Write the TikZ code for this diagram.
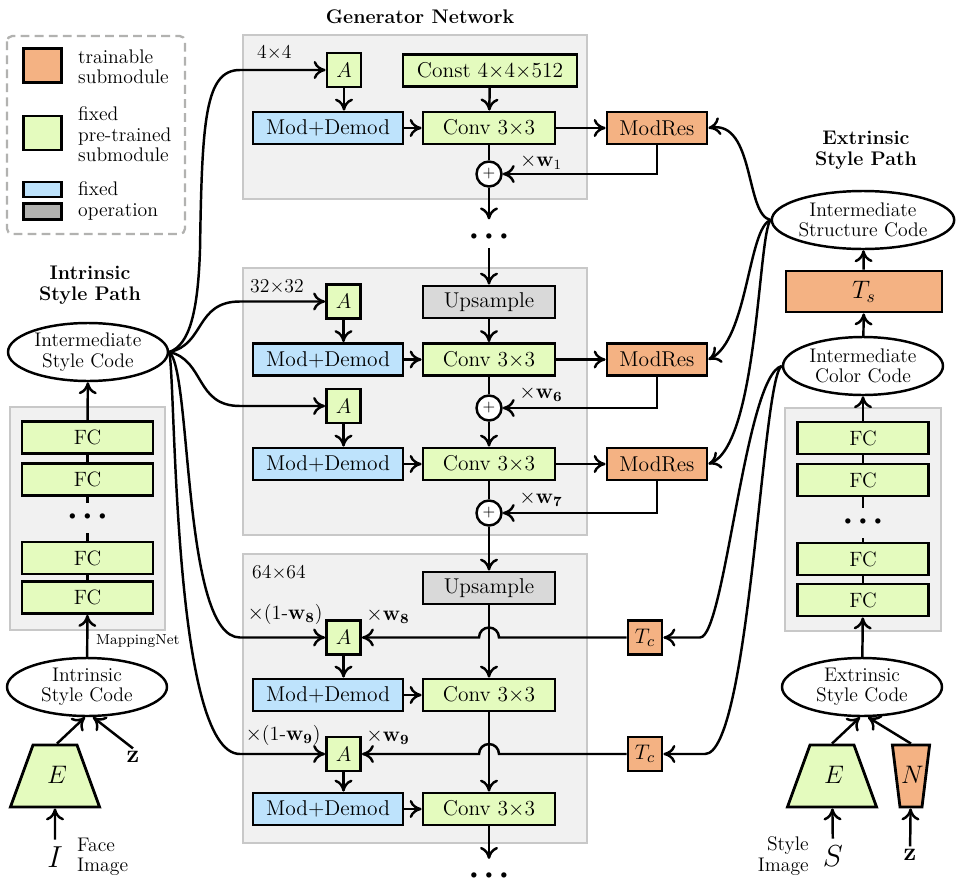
\documentclass[tikz,border=0pt]{standalone}
\usepackage{amsmath,amssymb}
\usepackage{tikz}
\usetikzlibrary{arrows.meta,shapes.geometric}
\definecolor{trainorange}{RGB}{244,178,131}
\definecolor{fixgreen}{RGB}{228,251,190}
\definecolor{fixblue}{RGB}{190,227,252}
\definecolor{opgray}{RGB}{178,178,176}
\definecolor{upgray}{RGB}{217,217,217}
\definecolor{panelfill}{RGB}{241,241,241}
\definecolor{panelline}{RGB}{200,200,200}
\newcommand{\threedots}{{\fontsize{7}{7}\selectfont$\bullet\hspace{2.6pt}\bullet\hspace{2.6pt}\bullet$}}

\begin{document}
\begin{tikzpicture}[x=0.02cm,y=-0.02cm,line width=1.4pt,>={Computer Modern Rightarrow[length=2.4mm,width=3.6mm]}]
\tikzstyle{blockbox}=[draw,line width=1.6pt,minimum height=0.64cm,inner sep=0pt,font=\fontsize{12.2}{13}\selectfont]
\tikzstyle{modbox}=[blockbox,fill=fixblue,minimum width=3cm]
\tikzstyle{convbox}=[blockbox,fill=fixgreen,minimum width=2.64cm]
\tikzstyle{resbox}=[blockbox,fill=trainorange,minimum width=2cm]
\tikzstyle{abox}=[blockbox,fill=fixgreen,minimum width=0.68cm,minimum height=0.68cm,font=\fontsize{13}{14}\selectfont]
\tikzstyle{upbox}=[blockbox,fill=upgray,minimum width=2.64cm]
\tikzstyle{fcbox}=[blockbox,fill=fixgreen,minimum width=2.62cm,font=\fontsize{11.8}{12}\selectfont]
\tikzstyle{tcbox}=[blockbox,fill=trainorange,minimum width=0.68cm,minimum height=0.68cm,font=\fontsize{13}{14}\selectfont]
\tikzstyle{addnode}=[draw,circle,fill=white,minimum size=0.5cm,inner sep=0pt,font=\small]
\tikzstyle{codeshape}=[draw,ellipse,fill=white,minimum width=3.2cm,minimum height=1.16cm,inner sep=0pt,align=center,font=\fontsize{11.2}{11.6}\selectfont]
\tikzstyle{panel}=[fill=panelfill,draw=panelline,line width=1.1pt]
\tikzstyle{wlabel}=[font=\fontsize{11.5}{12}\selectfont,inner sep=1pt]
\tikzstyle{dotsnode}=[inner sep=0pt]
\tikzstyle{pathtitle}=[font=\bfseries\fontsize{11.2}{12}\selectfont,align=center]
\tikzstyle{legtext}=[font=\fontsize{11.2}{11.6}\selectfont,align=left,inner sep=0pt]
\tikzstyle{encshape}=[draw,line width=1.6pt,trapezium,trapezium angle=70,text width=0.32cm,align=center,text height=0.3cm,text depth=0cm,inner xsep=0.28cm,inner ysep=0.47cm,font=\fontsize{14}{14}\selectfont]
\useasboundingbox (0,0) rectangle (961,896);

% legend
\draw[opgray,dashed,dash pattern=on 5pt off 3pt,rounded corners=3pt,line width=1.3pt] (7,36) rectangle (185,234);
\node[blockbox,fill=trainorange,minimum width=0.76cm,minimum height=0.68cm] (legtrain) at (42.5,65.5) {};
\node[blockbox,fill=fixgreen,minimum width=0.76cm,minimum height=0.68cm] (legfix) at (42.5,133) {};
\node[blockbox,fill=fixblue,minimum width=0.76cm,minimum height=0.3cm] (legblue) at (42.5,189.5) {};
\node[blockbox,fill=opgray,minimum width=0.76cm,minimum height=0.32cm] (leggray) at (42.5,211.5) {};
\node[legtext,anchor=west] at (77,67) {trainable\\submodule};
\node[legtext,anchor=west] at (77,134.5) {fixed\\pre-trained\\submodule};
\node[legtext,anchor=west] at (77,201) {fixed\\operation};

% generator panels
\node[pathtitle] at (420,17) {Generator Network};
\draw[panel] (243,35) rectangle (587,199);
\draw[panel] (243,268) rectangle (587,535);
\draw[panel] (243,554) rectangle (587,843);
\draw[panel] (10,407) rectangle (165,630);
\draw[panel] (785,408) rectangle (941,631);

% 4x4
\node[legtext,anchor=west] at (256,53) {4$\times$4};
\node[abox] (a0) at (344,70) {$A$};
\node[convbox,minimum width=3.48cm] (const) at (490,70.5) {Const 4$\times$4$\times$512};
\node[modbox] (md0) at (328,128) {Mod+Demod};
\node[convbox] (conv0) at (489,128) {Conv 3$\times$3};
\node[resbox] (res0) at (657,128) {ModRes};
\node[addnode] (add0) at (489,174) {$+$};
\node[wlabel] at (541,162) {$\times\mathbf{w}_1$};
\node[dotsnode] (dots0) at (489,237) {\threedots};

% 32x32
\node[legtext,anchor=west] at (249,287) {32$\times$32};
\node[abox] (a1) at (343.5,301.5) {$A$};
\node[upbox] (up1) at (489,302) {Upsample};
\node[modbox] (md1) at (328,359.5) {Mod+Demod};
\node[convbox] (conv1) at (489,359.5) {Conv 3$\times$3};
\node[resbox] (res1) at (657,359.5) {ModRes};
\node[addnode] (add1) at (489,408) {$+$};
\node[wlabel] at (541,394) {$\times\mathbf{w}_{\mathbf{6}}$};
\node[abox] (a2) at (343.5,406) {$A$};
\node[modbox] (md2) at (328,464) {Mod+Demod};
\node[convbox] (conv2) at (489,464) {Conv 3$\times$3};
\node[resbox] (res2) at (657,464) {ModRes};
\node[addnode] (add2) at (489,513) {$+$};
\node[wlabel] at (541,499) {$\times\mathbf{w}_{\mathbf{7}}$};

% 64x64
\node[legtext,anchor=west] at (251,573) {64$\times$64};
\node[upbox] (up2) at (489,588) {Upsample};
\node[abox] (a3) at (343.5,637.5) {$A$};
\node[wlabel] at (285,614) {$\times$(1-$\mathbf{w}_{\mathbf{8}}$)};
\node[wlabel] at (388,616) {$\times\mathbf{w}_{\mathbf{8}}$};
\node[tcbox] (tc1) at (645,637.5) {$T_c$};
\node[modbox] (md3) at (328,695) {Mod+Demod};
\node[convbox] (conv3) at (489,695) {Conv 3$\times$3};
\node[abox] (a4) at (343.5,754) {$A$};
\node[wlabel] at (283,735) {$\times$(1-$\mathbf{w}_{\mathbf{9}}$)};
\node[wlabel] at (388,737) {$\times\mathbf{w}_{\mathbf{9}}$};
\node[tcbox] (tc2) at (645,754) {$T_c$};
\node[modbox] (md4) at (328,809) {Mod+Demod};
\node[convbox] (conv4) at (489,809) {Conv 3$\times$3};
\node[dotsnode] (dots1) at (489,876) {\threedots};

% generator connectors
\draw[->] (a0.south) -- (a0.south |- md0.north);
\draw[->] (const) -- (conv0);
\draw[->] (md0) -- (conv0);
\draw[->] (conv0) -- (res0);
\draw (conv0) -- (add0);
\draw[->] (res0.south) |- (add0.east);
\draw[->,shorten >=0.27cm] (add0) -- (dots0);
\draw[->,shorten <=0.14cm] (dots0) -- (up1);
\draw[->] (a1.south) -- (a1.south |- md1.north);
\draw[->] (up1) -- (conv1);
\draw[->] (md1) -- (conv1);
\draw[->] (conv1) -- (res1);
\draw (conv1) -- (add1);
\draw[->] (res1.south) |- (add1.east);
\draw[->] (add1) -- (conv2);
\draw[->] (a2.south) -- (a2.south |- md2.north);
\draw[->] (md2) -- (conv2);
\draw[->] (conv2) -- (res2);
\draw (conv2) -- (add2);
\draw[->] (res2.south) |- (add2.east);
\draw[->] (add2) -- (up2);
\draw[->] (up2) -- (conv3);
\draw[->] (a3.south) -- (a3.south |- md3.north);
\draw[->] (md3) -- (conv3);
\draw[->] (conv3) -- (conv4);
\draw[->] (a4.south) -- (a4.south |- md4.north);
\draw[->] (md4) -- (conv4);
\draw[->,shorten >=0.26cm] (conv4) -- (dots1);
\draw[->] (tc1.west) -- ([xshift=0.2cm]up2.south |- tc1.west) arc[start angle=0,end angle=180,radius=0.2cm] -- (a3.east);
\draw[->] (tc2.west) -- ([xshift=0.2cm]up2.south |- tc2.west) arc[start angle=0,end angle=180,radius=0.2cm] -- (a4.east);

% intrinsic path
\node[pathtitle] at (90,285) {Intrinsic\\Style Path};
\node[codeshape] (isc) at (88,352) {Intermediate\\Style Code};
\node[fcbox] (fc1) at (87.5,437.5) {FC};
\node[fcbox] (fc2) at (87.5,479.5) {FC};
\node[dotsnode] (ldots) at (87.5,517) {\threedots};
\node[fcbox] (fc3) at (87.5,558) {FC};
\node[fcbox] (fc4) at (87.5,597.5) {FC};
\node[font=\fontsize{8.2}{9}\selectfont,anchor=west,inner sep=0pt] at (95,641) {MappingNet};
\node[codeshape] (isIn) at (87,687) {Intrinsic\\Style Code};
\node[encshape,fill=fixgreen] (encL) at (55,776) {$E$};
\node[inner sep=1pt,font=\fontsize{14}{14}\selectfont] (zL) at (133,757) {$\mathbf{z}$};
\node[font=\fontsize{16}{16}\selectfont] (imgI) at (55,857) {$I$};
\node[legtext,anchor=west] at (76,857) {Face\\Image};
\draw (fc1) -- (fc2);
\draw[shorten >=0.2cm] (fc2) -- (ldots);
\draw[shorten <=0.24cm] (ldots) -- (fc3);
\draw (fc3) -- (fc4);
\draw[->] (fc1) -- (isc);
\draw[->] (isIn) -- (fc4);
\draw[->] (imgI) -- (encL);
\draw[->] ([xshift=0.04cm]encL.north) -- ([xshift=-0.04cm]isIn.south);
\draw[->] (zL.north) -- ([xshift=0.12cm]isIn.south);
\draw[->] (isc.east) .. controls (190,345) and (198,310) .. (200,250) .. controls (202,120) and (205,70) .. (240,70) -- (a0.west);
\draw[->] (isc.east) .. controls (205,345) and (195,301.5) .. (240,301.5) -- (a1.west);
\draw[->] (isc.east) .. controls (205,360) and (195,406) .. (240,406) -- (a2.west);
\draw[->] (isc.east) .. controls (192,370) and (182,637.5) .. (240,637.5) -- (a3.west);
\draw[->] (isc.east) .. controls (176,380) and (172,754) .. (240,754) -- (a4.west);

% extrinsic path
\node[pathtitle] at (866,150) {Extrinsic\\Style Path};
\node[codeshape] (isc2) at (863,220) {Intermediate\\Structure Code};
\node[blockbox,fill=trainorange,minimum width=3.12cm,minimum height=0.82cm,font=\fontsize{14}{14}\selectfont] (ts) at (864,291.5) {$T_s$};
\node[codeshape] (icc) at (863,366) {Intermediate\\Color Code};
\node[fcbox] (fr1) at (863,438) {FC};
\node[fcbox] (fr2) at (863,480) {FC};
\node[dotsnode] (rdots) at (863,522) {\threedots};
\node[fcbox] (fr3) at (863,559) {FC};
\node[fcbox] (fr4) at (863,600) {FC};
\node[codeshape] (esc) at (862,687) {Extrinsic\\Style Code};
\node[encshape,fill=fixgreen] (encR) at (832,776) {$E$};
\node[encshape,fill=trainorange,shape border rotate=180,trapezium angle=83,text width=0.4cm,inner xsep=0.02cm] (noiseN) at (911,776) {$N$};
\node[font=\fontsize{16}{16}\selectfont] (imgS) at (833,856) {$S$};
\node[inner sep=1pt,font=\fontsize{14}{14}\selectfont] (zR) at (910,855) {$\mathbf{z}$};
\node[legtext,anchor=east,align=right] at (810,856) {Style\\Image};
\draw[->] (ts) -- (isc2);
\draw[->] (icc) -- (ts);
\draw[->] (fr1) -- (icc);
\draw (fr1) -- (fr2);
\draw[shorten >=0.2cm] (fr2) -- (rdots);
\draw[shorten <=0.24cm] (rdots) -- (fr3);
\draw (fr3) -- (fr4);
\draw[->] (esc) -- (fr4);
\draw[->] (encR.north) -- ([xshift=-0.04cm]esc.south);
\draw[->] (noiseN.north) -- ([xshift=0.12cm]esc.south);
\draw[->] (imgS) -- (encR);
\draw[->] (zR) -- (noiseN);
\draw[->] (isc2.west) .. controls (745,215) and (755,120) .. (res0.east);
\draw[->] (isc2.west) .. controls (748,228) and (748,340) .. (res1.east);
\draw[->] (isc2.west) .. controls (758,235) and (758,445) .. (res2.east);
\draw[->] (icc.west) .. controls (745,375) and (725,637.5) .. (700,637.5) -- (tc1.east);
\draw[->] (icc.west) .. controls (762,375) and (750,754) .. (705,754) -- (tc2.east);
\end{tikzpicture}
\end{document}
